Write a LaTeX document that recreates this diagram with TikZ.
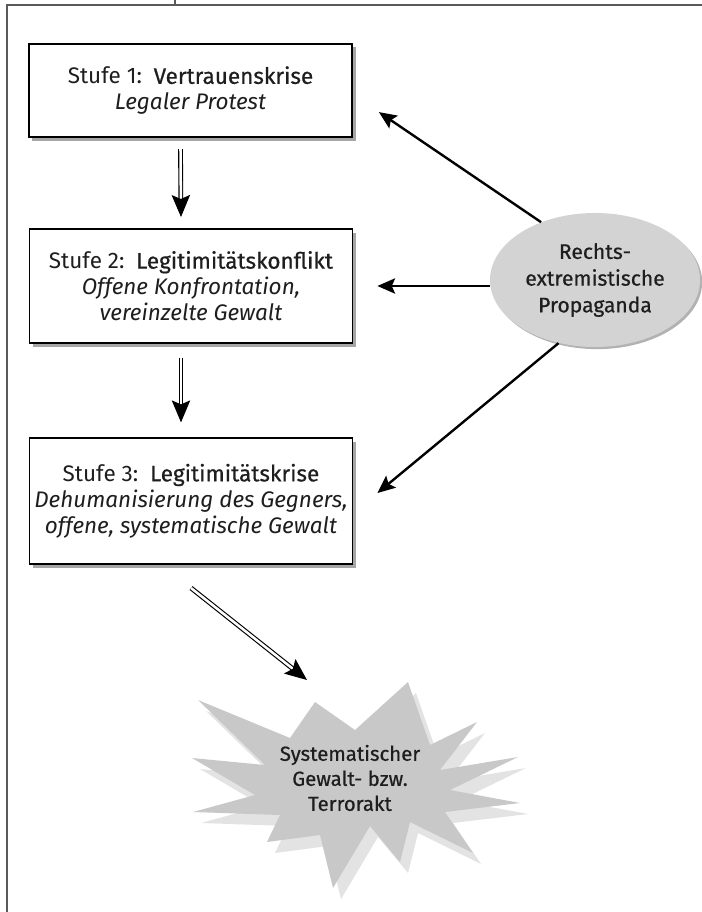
\documentclass[tikz,border=0pt]{standalone}
\usepackage{fontspec}
\setmainfont{Fira Sans}
\newfontfamily\mittel{Fira Sans}[FakeBold=0.6]
\usetikzlibrary{arrows.meta,positioning,calc,shapes.geometric,shadows}
\definecolor{inkgray}{HTML}{1E1E1E}
\definecolor{framegray}{HTML}{5A5A5A}
\definecolor{propgray}{HTML}{D3D3D3}
\definecolor{burstgray}{HTML}{C8C8C8}
\definecolor{burstlight}{HTML}{E3E3E3}
\newcommand{\burstoutline}{(198,700) -- (290,738) -- (315,702) -- (355,730) -- (408,682) -- (430,745) -- (477,722) -- (440,770) -- (518,757) -- (450,790) -- (520,803) -- (445,812) -- (473,853) -- (410,822) -- (400,862) -- (370,826) -- (333,888) -- (320,835) -- (267,842) -- (280,815) -- (193,812) -- (255,795) -- (192,758) -- (265,765) -- cycle}

\begin{document}
\begin{tikzpicture}[x=0.025cm,y=-0.025cm,>=Stealth,
 stufe/.style={draw=black,line width=1.1pt,fill=white,minimum width=8.08cm,align=center,inner sep=3pt,text=inkgray,font=\fontsize{16}{18.5}\selectfont,drop shadow={shadow xshift=2.5pt,shadow yshift=-2.5pt,opacity=0.35,fill=black}},
 quelle/.style={ellipse,fill=propgray,minimum width=5.25cm,minimum height=3.35cm,inner sep=0pt,align=center,text=inkgray,font=\mittel\fontsize{15}{19}\selectfont,drop shadow={shadow xshift=1.5pt,shadow yshift=-1.5pt,opacity=0.3,fill=black}},
 a/.style={-{Stealth[length=4.4mm,width=3.8mm,inset=0.8mm]},line width=1.7pt,black},
 dbl/.style={-{Stealth[length=5.5mm,width=4.6mm,inset=1mm]},double=white,double distance=1.8pt,line width=0.8pt,draw=black},
 frame/.style={line width=0.8pt,framegray}]
\useasboundingbox (0,0) rectangle (702,912);
\draw[frame] (175,0) -- (175,5);
\draw[frame] (702,5) -| (7,912);

\node[stufe,minimum height=2.33cm] (s1) at (190.5,90.5) {Stufe 1:\, {\mittel Vertrauenskrise}\\\textit{Legaler Protest}};
\node[stufe,minimum height=2.85cm] (s2) at (191,286) {Stufe 2:\, {\mittel Legitimitätskonflikt}\\\textit{Offene Konfrontation,}\\\textit{vereinzelte Gewalt}};
\node[stufe,minimum height=3.15cm] (s3) at (191,501) {Stufe 3:\, {\mittel Legitimitätskrise}\\\textit{Dehumanisierung des Gegners,}\\\textit{offene, systematische Gewalt}};

\node[quelle] (prop) at (595,280) {Rechts-\\extremistische\\Propaganda};

% Gewaltakt
\fill[burstlight,shift={(8,11)}] \burstoutline;
\fill[burstgray] \burstoutline;
\node[align=center,text=inkgray,font=\mittel\fontsize{14.5}{17.8}\selectfont] (act) at (350,778) {Systematischer\\Gewalt- bzw.\\Terrorakt};
\coordinate (act-in) at (307,680);

\draw[dbl] ([xshift=-0.25cm,yshift=-0.28cm]s1.south) -- ([xshift=-0.25cm,yshift=0.28cm]s2.north);
\draw[dbl] ([xshift=-0.25cm,yshift=-0.35cm]s2.south) -- ([xshift=-0.25cm,yshift=0.37cm]s3.north);
\draw[dbl] ([yshift=-0.58cm]s3.south) -- (act-in);

\draw[a] (prop.133) -- ([shift={(0.65cm,-0.54cm)}]s1.east);
\draw[a] (prop.west |- s2.east) -- ([xshift=0.6cm]s2.east);
\draw[a] (prop.240) -- ([shift={(0.6cm,0.2cm)}]s3.east);
\end{tikzpicture}
\end{document}
